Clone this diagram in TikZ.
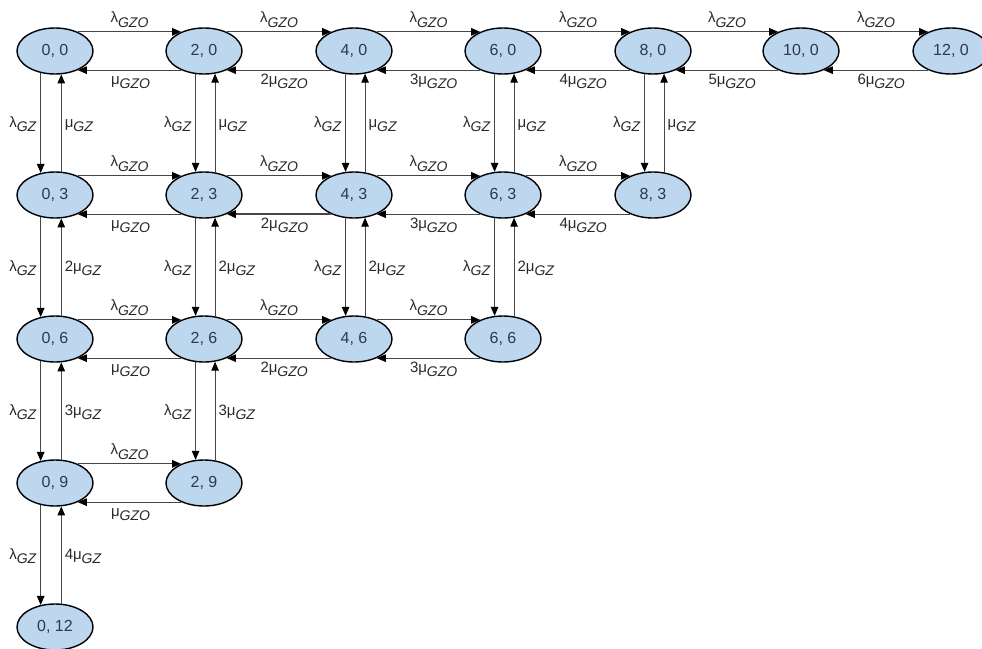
\documentclass[tikz,border=0pt]{standalone}
\usepackage{fontspec}
\setmainfont{Liberation Sans}
\usetikzlibrary{shapes.geometric,arrows.meta,calc}
\definecolor{nodefill}{RGB}{189,215,238}
\definecolor{nodetext}{RGB}{45,58,75}
\definecolor{linecol}{RGB}{70,70,70}
\definecolor{labcol}{RGB}{40,40,40}
\newcommand{\rt}[2]{#1\raisebox{-4.5pt}{\fontsize{14}{14}\selectfont\itshape #2}}
\newcommand{\mkh}[4][]{%
  \draw[arr] (#2.40) -- node[toplab]{\rt{λ}{GZO}} (#3.140);
  \draw[arr,#1] (#3.220) -- node[botlab]{\rt{#4μ}{GZO}} (#2.320);}
\newcommand{\mkv}[7]{%
  \draw[arr] (#1.#4) -- node[leftlab]{\rt{λ}{GZ}} (#2.#5);
  \draw[arr] (#2.#6) -- node[rightlab]{\rt{#3μ}{GZ}} (#1.#7);}
\begin{document}
\begin{tikzpicture}[x=1pt,y=-1pt,
  state/.style={ellipse, draw=black, line width=1.4pt, fill=nodefill,
    minimum width=76pt, minimum height=46pt, inner sep=0pt,
    font=\fontsize{16}{16}\selectfont, text=nodetext},
  arr/.style={draw=linecol, line width=1pt, -{Triangle[length=9pt,width=7.5pt,color=black]}},
  lab/.style={font=\fontsize{15}{15}\selectfont, text=labcol, inner sep=0pt},
  toplab/.style={lab, anchor=base, yshift=9pt},
  botlab/.style={lab, anchor=base west, xshift=-19pt, yshift=-14pt},
  leftlab/.style={lab, anchor=base east, xshift=-4pt, yshift=-4pt},
  rightlab/.style={lab, anchor=base west, xshift=3pt, yshift=-4pt}]
\useasboundingbox (0,0) rectangle (982,648);
\clip (0,0) rectangle (982,648);
% row 0
\node[state] (n00) at (55,51) {0, 0};
\node[state] (n20) at (204,51) {2, 0};
\node[state] (n40) at (354,51) {4, 0};
\node[state] (n60) at (503,51) {6, 0};
\node[state] (n80) at (653,51) {8, 0};
\node[state] (n100) at (801,51) {10, 0};
\node[state] (n120) at (951,51) {12, 0};
% row 3
\node[state] (n03) at (55,195) {0, 3};
\node[state] (n23) at (204,195) {2, 3};
\node[state] (n43) at (354,195) {4, 3};
\node[state] (n63) at (503,195) {6, 3};
\node[state] (n83) at (653,195) {8, 3};
% row 6
\node[state] (n06) at (55,339) {0, 6};
\node[state] (n26) at (204,339) {2, 6};
\node[state] (n46) at (354,339) {4, 6};
\node[state] (n66) at (503,339) {6, 6};
% row 9
\node[state] (n09) at (55,483) {0, 9};
\node[state] (n29) at (204,483) {2, 9};
% row 12
\node[state] (n012) at (55,627) {0, 12};
% horizontal links
\mkh{n00}{n20}{}
\mkh{n20}{n40}{2}
\mkh{n40}{n60}{3}
\mkh{n60}{n80}{4}
\mkh{n80}{n100}{5}
\mkh{n100}{n120}{6}
\mkh{n03}{n23}{}
\mkh[line width=1.8pt]{n23}{n43}{2}
\mkh{n43}{n63}{3}
\mkh{n63}{n83}{4}
\mkh{n06}{n26}{}
\mkh{n26}{n46}{2}
\mkh{n46}{n66}{3}
\mkh{n09}{n29}{}
% vertical links
\mkv{n00}{n03}{}{237}{123}{75}{285}
\mkv{n20}{n23}{}{250}{110}{64}{296}
\mkv{n40}{n43}{}{250}{110}{64}{296}
\mkv{n60}{n63}{}{250}{110}{64}{296}
\mkv{n80}{n83}{}{250}{110}{64}{296}
\mkv{n03}{n06}{2}{237}{123}{75}{285}
\mkv{n23}{n26}{2}{250}{110}{64}{296}
\mkv{n43}{n46}{2}{250}{110}{64}{296}
\mkv{n63}{n66}{2}{250}{110}{64}{296}
\mkv{n06}{n09}{3}{237}{123}{75}{285}
\mkv{n26}{n29}{3}{250}{110}{64}{296}
\mkv{n09}{n012}{4}{237}{123}{75}{285}
\end{tikzpicture}
\end{document}
